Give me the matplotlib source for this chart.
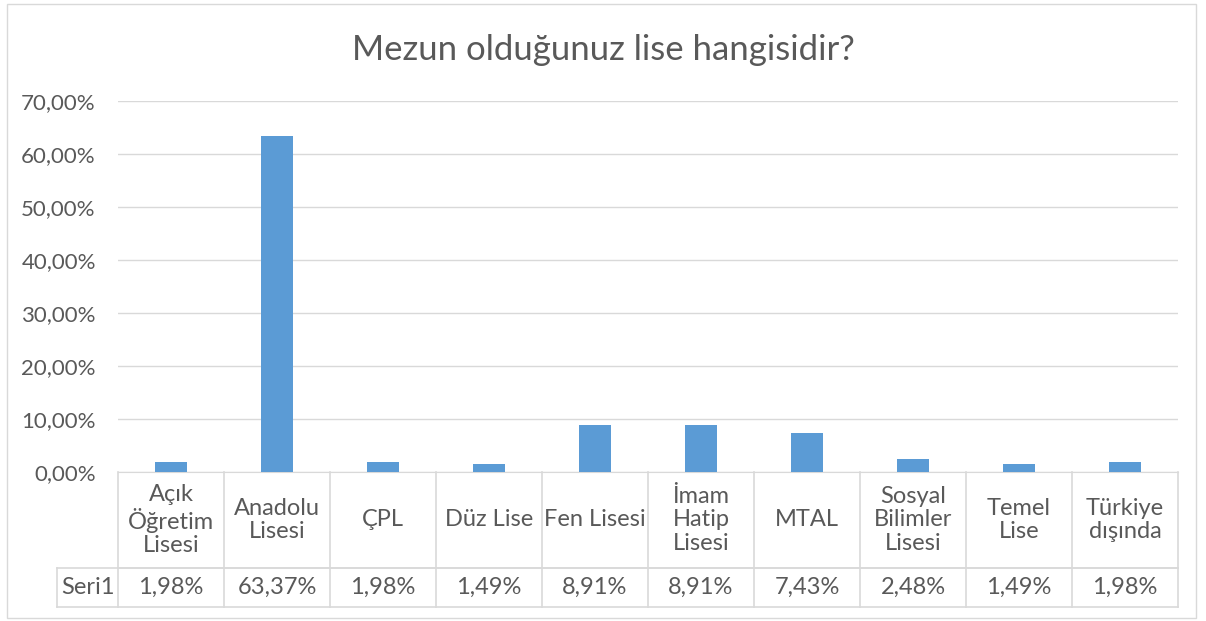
import matplotlib
matplotlib.use("Agg")
import matplotlib.pyplot as plt
from matplotlib.patches import Rectangle
from matplotlib.transforms import blended_transform_factory

# data
categories = ["Açık\nÖğretim\nLisesi", "Anadolu\nLisesi", "ÇPL", "Düz Lise", "Fen Lisesi",
              "İmam\nHatip\nLisesi", "MTAL", "Sosyal\nBilimler\nLisesi", "Temel\nLise", "Türkiye\ndışında"]
values = [1.98, 63.37, 1.98, 1.49, 8.91, 8.91, 7.43, 2.48, 1.49, 1.98]
series_name = "Seri1"
yticks = [0, 10, 20, 30, 40, 50, 60, 70]

BAR = "#5B9BD5"
TXT = "#595959"
GRID = "#D9D9D9"

plt.rcParams['font.family'] = ['Lato', 'DejaVu Sans']

W, H = 1206, 621
fig = plt.figure(figsize=(W / 100, H / 100), dpi=100)

# outer chart border
fig.patches.append(Rectangle((7 / W, 3 / H), (1196 - 7) / W, (617 - 3) / H,
                             transform=fig.transFigure, fill=False,
                             edgecolor=GRID, linewidth=1))

left, right, top, bottom = 118, 1178, 101, 472
ax = fig.add_axes([left / W, 1 - bottom / H, (right - left) / W, (bottom - top) / H])

x = list(range(len(values)))
ax.bar(x, values, width=0.31, color=BAR, zorder=3)
ax.set_xlim(-0.5, len(values) - 0.5)
ax.set_ylim(0, 70)
ax.set_yticks(yticks)
ax.set_yticklabels([f"{v:.2f}%".replace(".", ",") for v in yticks], fontsize=16, color=TXT)
ax.tick_params(axis='y', length=0, pad=16)
ax.set_xticks([])
ax.grid(axis='y', color=GRID, linewidth=1, zorder=0)
for s in ["top", "right", "left"]:
    ax.spines[s].set_visible(False)
ax.spines["bottom"].set_color(GRID)

fig.text(0.5, 1 - 50 / H, "Mezun olduğunuz lise hangisidir?", ha="center", va="center",
         fontsize=25, color=TXT)

# data table under the axis
tr = blended_transform_factory(ax.transData, ax.transAxes)
ah = bottom - top
row1 = -(568 - bottom) / ah
row2 = -(607 - bottom) / ah
seri_left = (57 - left) / ((right - left) / len(values)) - 0.5
n = len(values)

kw = dict(transform=tr, color=GRID, linewidth=1.2, clip_on=False)
ax.plot([-0.5, n - 0.5], [row1, row1], **kw)
ax.plot([seri_left, n - 0.5], [row1, row1], **kw)
ax.plot([seri_left, n - 0.5], [row2, row2], **kw)
ax.plot([seri_left, seri_left], [row1, row2], **kw)
for i in range(n + 1):
    ax.plot([i - 0.5, i - 0.5], [0, row2], **kw)

fs = 17
for i, (c, v) in enumerate(zip(categories, values)):
    ax.text(i, row1 / 2, c, transform=tr, ha="center", va="center",
            fontsize=fs, color=TXT, linespacing=1.15)
    ax.text(i, (row1 + row2) / 2, f"{v:.2f}%".replace(".", ","), transform=tr,
            ha="center", va="center", fontsize=fs, color=TXT)
ax.text((seri_left - 0.5) / 2, (row1 + row2) / 2, series_name, transform=tr,
        ha="center", va="center", fontsize=fs, color=TXT)

fig.savefig("out.png", dpi=100)
